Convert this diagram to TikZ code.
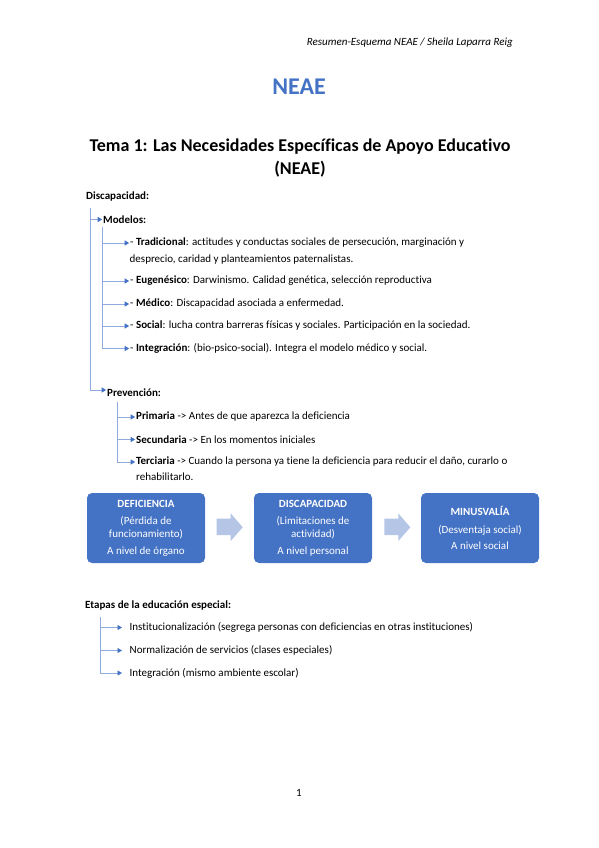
\documentclass[tikz,border=0pt]{standalone}
\usepackage{fontspec}
\setmainfont{Carlito}[Ligatures={NoCommon,NoContextual}]
\usetikzlibrary{arrows.meta}
\definecolor{boxblue}{HTML}{4472C4}
\definecolor{lineblue}{HTML}{8FAADC}
\definecolor{arrowfill}{HTML}{B4C5E6}
\begin{document}
\begin{tikzpicture}[x=1pt,y=-1pt,
  txt/.style={anchor=west,inner sep=0pt,font=\fontsize{11}{13}\selectfont},
  btxt/.style={txt,font=\fontsize{11}{13}\selectfont\bfseries},
  conn/.style={draw=lineblue,line width=0.9pt,shorten >=0.8pt,-{Triangle[length=4.5pt,width=5pt,color=boxblue]}},
  bx/.style={fill=boxblue,rounded corners=5pt,text=white,minimum width=118pt,minimum height=70pt,align=center,inner sep=2pt,font=\fontsize{11}{13}\selectfont},
  blockarrow/.style={fill=arrowfill}
]
\useasboundingbox (0,0) rectangle (599,848);
% header and titles
\node[anchor=east,inner sep=0pt,font=\fontsize{11}{13}\selectfont\itshape] (hdr) at (513,43) {Resumen-Esquema NEAE / Sheila Laparra Reig};
\node[inner sep=0pt,font=\fontsize{24}{28}\selectfont\bfseries,text=boxblue] (neae) at (299,87) {NEAE};
\node[inner sep=0pt,align=center,font=\fontsize{18}{23}\selectfont\bfseries] (title) at (300,158) {Tema 1: Las Necesidades Específicas de Apoyo Educativo\\(NEAE)};
% Discapacidad tree
\node[btxt] (disc) at (86,197) {Discapacidad:};
\coordinate (t0) at (90,208);
\node[btxt] (mod) at (103,219.5) {Modelos:};
\draw[conn] (t0) |- (mod.west);
\node[btxt] (prev) at (107,393) {Prevención:};
\draw[conn] (t0) |- ([yshift=3pt]prev.west);
% models
\coordinate (m0) at (102,227);
\node[txt] (trad) at (130,243) {- \textbf{Tradicional}: actitudes y conductas sociales de persecución, marginación y};
\node[txt] (trad2) at (129.5,260) {desprecio, caridad y planteamientos paternalistas.};
\node[txt] (eug) at (130,281) {- \textbf{Eugenésico}: Darwinismo. Calidad genética, selección reproductiva};
\node[txt] (med) at (130,304) {- \textbf{Médico}: Discapacidad asociada a enfermedad.};
\node[txt] (soc) at (130,326) {- \textbf{Social}: lucha contra barreras físicas y sociales. Participación en la sociedad.};
\node[txt] (integ) at (130,348.5) {- \textbf{Integración}: (bio-psico-social). Integra el modelo médico y social.};
\foreach \n in {trad,eug,med,soc,integ} \draw[conn] (m0) |- (\n.west);
% prevention
\coordinate (p0) at (117.5,402);
\node[txt] (prim) at (136,417) {\textbf{Primaria} -> Antes de que aparezca la deficiencia};
\node[txt] (sec) at (136,439.5) {\textbf{Secundaria} -> En los momentos iniciales};
\node[txt] (ter) at (136,462) {\textbf{Terciaria} -> Cuando la persona ya tiene la deficiencia para reducir el daño, curarlo o};
\node[txt] (ter2) at (136,477) {rehabilitarlo.};
\foreach \n in {prim,sec,ter} \draw[conn] (p0) |- (\n.west);
% boxes
\node[bx] (b1) at (146,528) {\textbf{DEFICIENCIA}\\[4pt](Pérdida de\\funcionamiento)\\[4pt]A nivel de órgano};
\node[bx] (b2) at (313,528) {\textbf{DISCAPACIDAD}\\[4pt](Limitaciones de\\actividad)\\[4pt]A nivel personal};
\node[bx] (b3) at (480,528) {\textbf{MINUSVALÍA}\\[5pt](Desventaja social)\\[3pt]A nivel social};
\fill[blockarrow] (216.7,518.5) -- (230.7,518.5) -- (230.7,513.3) -- (242.7,527.3) -- (230.7,541) -- (230.7,535) -- (216.7,535) -- cycle;
\fill[blockarrow] (384.3,518.5) -- (398.3,518.5) -- (398.3,513.3) -- (410.3,527.3) -- (398.3,541) -- (398.3,535) -- (384.3,535) -- cycle;
% etapas
\node[btxt] (etap) at (85,605) {Etapas de la educación especial:};
\coordinate (e0) at (100.7,617);
\node[txt] (e1) at (129.5,627.5) {Institucionalización (segrega personas con deficiencias en otras instituciones)};
\node[txt] (e2) at (129.5,650.5) {Normalización de servicios (clases especiales)};
\node[txt] (e3) at (129.5,673) {Integración (mismo ambiente escolar)};
\foreach \n in {e1,e2,e3} \draw[conn,shorten >=7.5pt] (e0) |- (\n.west);
% page number
\node[inner sep=0pt,font=\fontsize{11}{13}\selectfont] (pg) at (299,793) {1};
\end{tikzpicture}
\end{document}
